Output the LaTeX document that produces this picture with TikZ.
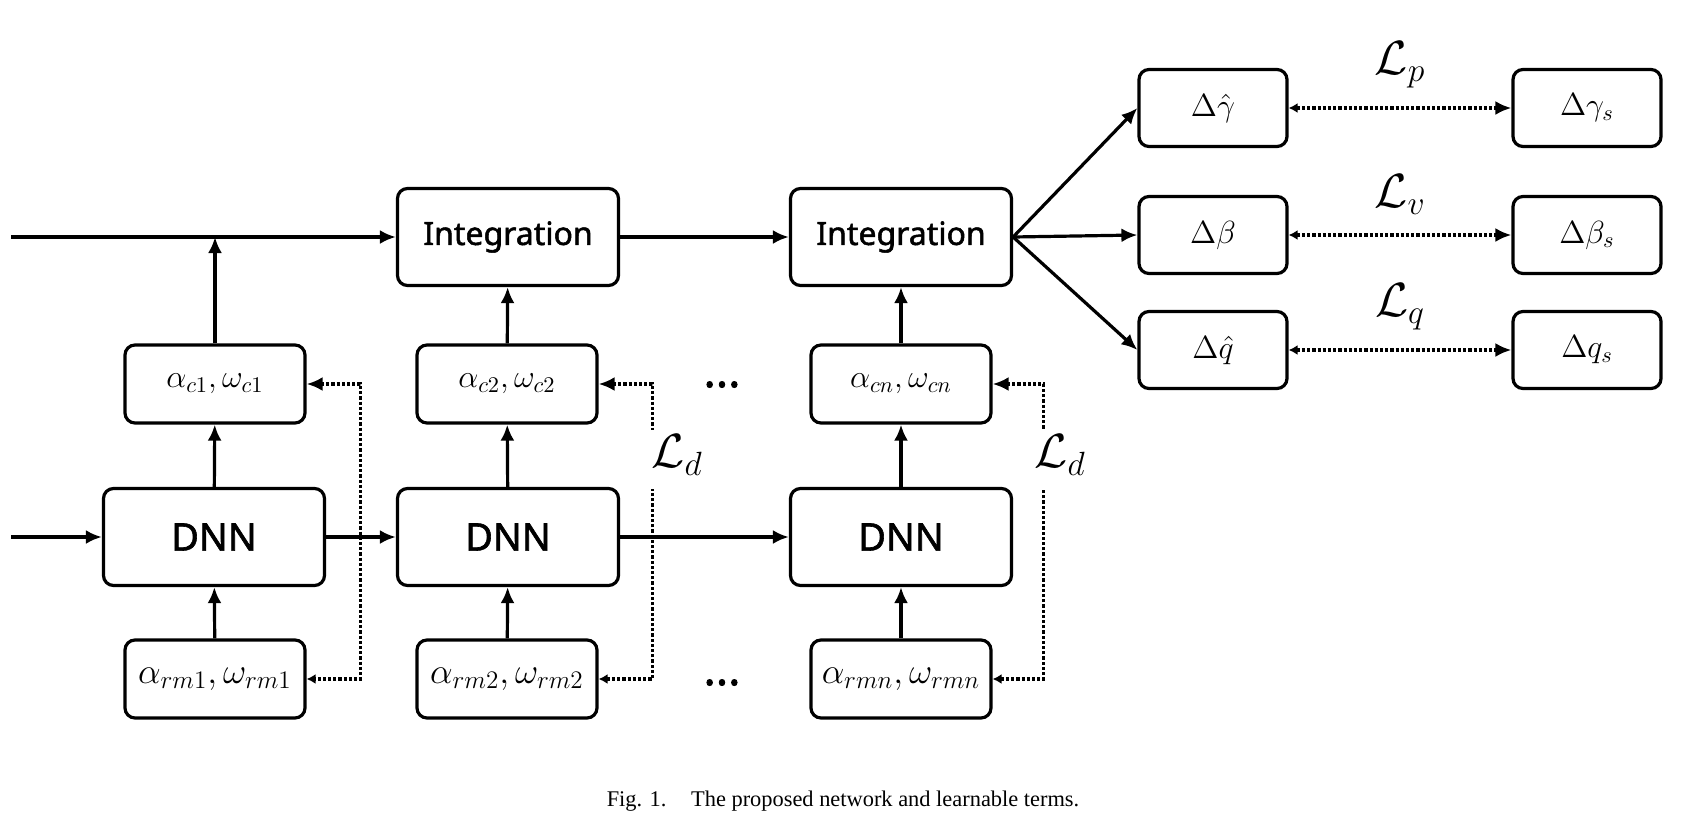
\RequirePackage{fix-cm}
\documentclass[tikz,border=0pt]{standalone}
\usepackage[no-math]{fontspec}
\newfontfamily\boxfont[FakeBold=1.6]{Noto Sans}
\newfontfamily\capfont{Liberation Serif}
\usetikzlibrary{arrows.meta}

\begin{document}
\begin{tikzpicture}[x=0.5pt, y=-0.5pt, line width=1.6pt,
    block/.style={draw, rounded corners=5pt, minimum width=110.5pt, minimum height=48.5pt, inner sep=0pt},
    param/.style={draw, rounded corners=5pt, minimum width=90pt, minimum height=39pt, inner sep=0pt,
        font=\fontsize{16}{18}\selectfont},
    rmparam/.style={param, font=\fontsize{18}{20}\selectfont},
    outbox/.style={draw, rounded corners=5pt, minimum width=74pt, minimum height=38.5pt, inner sep=0pt,
        font=\fontsize{16}{18}\selectfont},
    flow/.style={-{Latex[length=8pt,width=7pt]}},
    loss/.style={densely dotted},
    bigtip/.tip={Latex[length=8pt,width=7pt]},
    smalltip/.tip={Latex[length=4.5pt,width=5pt]},
    losslabel/.style={font=\fontsize{24}{26}\selectfont}]
    \useasboundingbox (0,0) rectangle (1685,831);

    % Integration rij
    \node[block, font=\boxfont\fontsize{16}{18}\selectfont] (int1) at (508,237) {Integration};
    \node[block, font=\boxfont\fontsize{16}{18}\selectfont] (int2) at (901,237) {Integration};

    % DNN rij
    \node[block, font=\boxfont\fontsize{19}{21}\selectfont] (dnn1) at (214,537) {DNN};
    \node[block, font=\boxfont\fontsize{19}{21}\selectfont] (dnn2) at (508,537) {DNN};
    \node[block, font=\boxfont\fontsize{19}{21}\selectfont] (dnn3) at (901,537) {DNN};

    % parameters
    \node[param] (c1) at (215,384) {$\alpha_{c1},\omega_{c1}$};
    \node[param] (c2) at (507,384) {$\alpha_{c2},\omega_{c2}$};
    \node[param] (cn) at (901,384) {$\alpha_{cn},\omega_{cn}$};
    \node[rmparam] (rm1) at (215,679) {$\alpha_{rm1},\omega_{rm1}$};
    \node[rmparam] (rm2) at (507,679) {$\alpha_{rm2},\omega_{rm2}$};
    \node[rmparam] (rmn) at (901,679) {$\alpha_{rmn},\omega_{rmn}$};
    \node[anchor=base, font=\boxfont\bfseries\fontsize{23}{23}\selectfont] (dotsc) at (722,387) {...};
    \node[anchor=base, font=\boxfont\bfseries\fontsize{23}{23}\selectfont] (dotsr) at (722,685) {...};

    % outputs
    \node[outbox] (gh) at (1213,108) {$\Delta\hat{\gamma}$};
    \node[outbox] (bh) at (1213,235) {$\Delta\beta$};
    \node[outbox] (qh) at (1213,350) {$\Delta\hat{q}$};
    \node[outbox] (gs) at (1587,108) {$\Delta\gamma_s$};
    \node[outbox] (bs) at (1587,235) {$\Delta\beta_s$};
    \node[outbox] (qs) at (1587,350) {$\Delta q_s$};

    % inputs
    \coordinate (in1) at (11,237);
    \coordinate (in2) at (11,537);

    % main flow
    \draw[flow] (in1) -- (int1);
    \draw[flow] (int1) -- (int2);
    \draw[flow] (in2) -- (dnn1);
    \draw[flow] (dnn1) -- (dnn2);
    \draw[flow] (dnn2) -- (dnn3);
    \draw[flow] (c1) -- (c1 |- in1);
    \draw[flow] (c2) -- (int1);
    \draw[flow] (cn) -- (int2);
    \draw[flow] (dnn1) -- (c1);
    \draw[flow] (dnn2) -- (c2);
    \draw[flow] (dnn3) -- (cn);
    \draw[flow] (rm1) -- (dnn1);
    \draw[flow] (rm2) -- (dnn2);
    \draw[flow] (rmn) -- (dnn3);
    \draw[flow] (int2.east) -- (gh.west);
    \draw[flow] (int2.east) -- (bh.west);
    \draw[flow] (int2.east) -- (qh.west);

    % losses
    \draw[loss, bigtip-smalltip] (c1.east) -- ++(54,0) |- (rm1.east);

    \node[losslabel] (ld2) at (677,455) {$\mathcal{L}_d$};
    \draw[loss, bigtip-] (c2.east) -- ++(54,0) -- ++(0,46);
    \draw[loss, smalltip-] (rm2.east) -- ++(54,0) -- ++(0,-190);

    \node[losslabel] (ld3) at (1060,455) {$\mathcal{L}_d$};
    \draw[loss, bigtip-] (cn.east) -- ++(51,0) -- ++(0,46);
    \draw[loss, smalltip-] (rmn.east) -- ++(51,0) -- ++(0,-190);

    \draw[loss, smalltip-bigtip] (gh) -- node[losslabel, above=6pt] (lp) {$\mathcal{L}_p$} (gs);
    \draw[loss, smalltip-bigtip] (bh) -- node[losslabel, above=6pt] (lv) {$\mathcal{L}_v$} (bs);
    \draw[loss, smalltip-bigtip] (qh) -- node[losslabel, above=6pt] (lq) {$\mathcal{L}_q$} (qs);

    % caption
    \node[font=\capfont\fontsize{11.2}{13}\selectfont] (cap) at (843,801)
        {Fig. 1.\hspace{1.1em}The proposed network and learnable terms.};
\end{tikzpicture}
\end{document}
